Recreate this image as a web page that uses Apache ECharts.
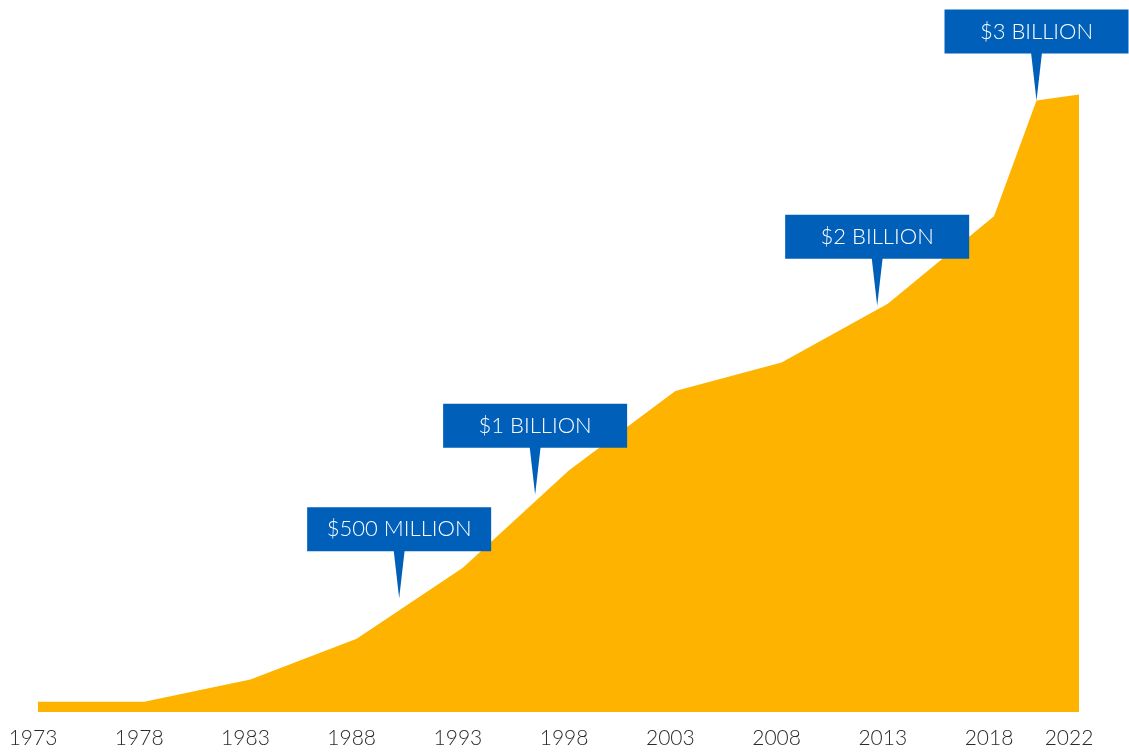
<!DOCTYPE html>
<html>
<head>
<meta charset="utf-8">
<title>Cumulative growth, 1973–2022</title>
<script src="https://cdn.jsdelivr.net/npm/echarts@6/dist/echarts.min.js"></script>
<style>
  html, body { margin: 0; padding: 0; background: #ffffff; }
  #chart { width: 1129px; height: 753px; }
</style>
</head>
<body>
<div id="chart"></div>
<script>
// Cumulative total, in billions of dollars, by year
const years  = [1973, 1978, 1983, 1988, 1993, 1998, 2003, 2008, 2013, 2018, 2020, 2022];
const totals = [0.05, 0.05, 0.16, 0.36, 0.71, 1.19, 1.58, 1.72, 2.01, 2.44, 3.01, 3.04];

// Axis tick labels
const tickYears = [1973, 1978, 1983, 1988, 1993, 1998, 2003, 2008, 2013, 2018, 2022];

// Milestone callouts: where each pointer tip sits, and its text
const calloutYears  = [1990, 1996.4, 2012.5, 2020];
const calloutTips   = [0.56, 1.07, 2.0, 3.01];
const calloutLabels = ['$500 MILLION', '$1 BILLION', '$2 BILLION', '$3 BILLION'];

const FONT = 'Lato, "Open Sans", sans-serif';
const GOLD = '#FDB300';
const BLUE = '#005FB9';

const chart = echarts.init(document.getElementById('chart'), null, { renderer: 'canvas' });

const BOX_W = 184, BOX_H = 44, STEM = 47, STEM_HALF = 5.5;

chart.setOption({
  animation: false,
  backgroundColor: '#ffffff',
  grid: { left: 38, right: 50, top: 1, bottom: 41 },
  xAxis: {
    type: 'value',
    min: 1973,
    max: 2022,
    axisLine: { show: false },
    axisTick: { show: false },
    splitLine: { show: false },
    axisLabel: {
      customValues: tickYears,
      margin: 16,
      color: '#2b2b2b',
      fontFamily: FONT,
      fontSize: 21,
      fontWeight: 300,
      padding: [0, 10, 0, 0],
      formatter: v => (v === 2022 ? '{last|' + v + '}' : String(v)),
      rich: {
        last: { color: '#2b2b2b', fontFamily: FONT, fontSize: 21, fontWeight: 300, padding: [0, 10, 0, 0] }
      }
    }
  },
  yAxis: {
    type: 'value',
    min: 0,
    max: 3.5,
    show: false,
    splitLine: { show: false }
  },
  series: [
    {
      type: 'line',
      data: years.map((y, i) => [y, totals[i]]),
      symbol: 'none',
      lineStyle: { width: 0 },
      areaStyle: { color: GOLD, opacity: 1 },
      z: 2
    },
    {
      type: 'custom',
      clip: false,
      z: 5,
      data: calloutYears.map((y, i) => [y, calloutTips[i], calloutLabels[i]]),
      renderItem: function (params, api) {
        const tip = api.coord([api.value(0), api.value(1)]);
        const label = calloutLabels[params.dataIndex];
        const bottom = tip[1] - STEM;
        const top = bottom - BOX_H;
        const left = tip[0] - BOX_W / 2;
        return {
          type: 'group',
          children: [
            {
              type: 'rect',
              shape: { x: left, y: top, width: BOX_W, height: BOX_H },
              style: { fill: BLUE }
            },
            {
              type: 'polygon',
              shape: {
                points: [
                  [tip[0] - STEM_HALF, bottom - 1],
                  [tip[0] + STEM_HALF, bottom - 1],
                  [tip[0], tip[1]]
                ]
              },
              style: { fill: BLUE }
            },
            {
              type: 'text',
              style: {
                text: label,
                x: tip[0],
                y: top + BOX_H / 2,
                align: 'center',
                verticalAlign: 'middle',
                fill: '#ffffff',
                font: '300 22px ' + FONT
              }
            }
          ]
        };
      }
    }
  ]
});
</script>
</body>
</html>
